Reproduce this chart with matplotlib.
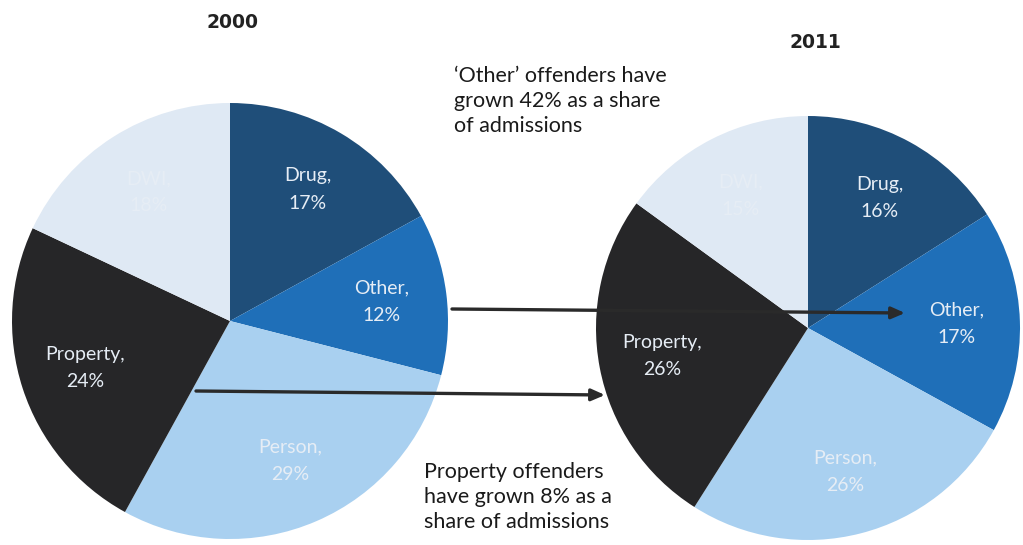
import matplotlib
matplotlib.use("Agg")
import matplotlib.pyplot as plt

# ---- data ----
categories = ["Drug", "Other", "Person", "Property", "DWI"]
share_2000 = [17, 12, 29, 24, 18]
share_2011 = [16, 17, 26, 26, 15]
years = ["2000", "2011"]
colors = ["#1f4e79", "#1f6fb8", "#a9d0f0", "#262628", "#dfe9f4"]
note_other = "\u2018Other\u2019 offenders have\ngrown 42% as a share\nof admissions"
note_property = "Property offenders\nhave grown 8% as a\nshare of admissions"

W, H = 1023, 545
fig = plt.figure(figsize=(W / 100, H / 100), dpi=100)
ax = fig.add_axes([0, 0, 1, 1])


def py(y):
    return H - y


pies = [
    (share_2000, (230, py(321)), 218, (233, py(22))),
    (share_2011, (808, py(328)), 212, (815, py(42))),
]

for (vals, center, radius, title_pos), year in zip(pies, years):
    labels = [f"{c},\n{v}%" for c, v in zip(categories, vals)]
    wedges, texts = ax.pie(
        vals, colors=colors, startangle=90, counterclock=False,
        center=center, radius=radius, labels=labels, labeldistance=0.7,
        wedgeprops=dict(linewidth=0),
        textprops=dict(color="#e6edf5", fontsize=14, family="Lato",
                       linespacing=1.75),
        frame=True,
    )
    for t in texts:
        t.set_ha("center")
        t.set_va("center")
    ax.text(title_pos[0], title_pos[1], year, ha="center", va="center",
            fontsize=13.5, fontweight="bold", family="DejaVu Sans", color="#222222")

ax.set_xlim(0, W)
ax.set_ylim(0, H)
ax.set_aspect("equal")
ax.axis("off")

ax.text(454, py(66), note_other, ha="left", va="top", fontsize=15.5,
        family="Lato", color="#1a1a1a", linespacing=1.3)
ax.text(424, py(462), note_property, ha="left", va="top", fontsize=15.5,
        family="Lato", color="#1a1a1a", linespacing=1.3)

arrow = dict(arrowstyle="-|>,head_length=0.8,head_width=0.35",
             color="#2a2a2a", lw=2.4, shrinkA=0, shrinkB=0)
ax.annotate("", xy=(905, py(313)), xytext=(452, py(309)), arrowprops=arrow)
ax.annotate("", xy=(605, py(395)), xytext=(196, py(391)), arrowprops=arrow)

fig.savefig("out.png", dpi=100, facecolor="white")
